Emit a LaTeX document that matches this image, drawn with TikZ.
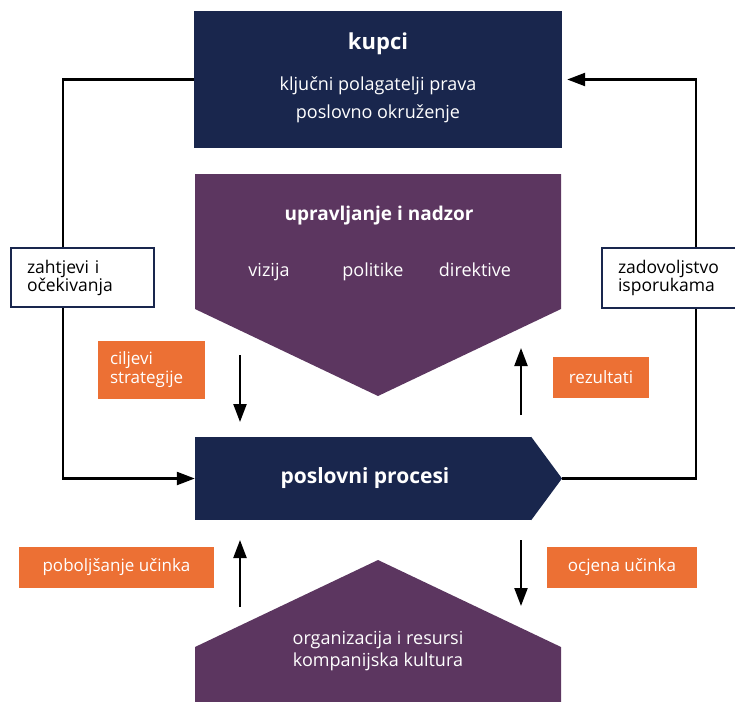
\documentclass[tikz,border=0pt]{standalone}
\usepackage{fontspec}
\setmainfont{Open Sans}
\usetikzlibrary{arrows.meta, positioning}
\definecolor{procnavy}{RGB}{25, 38, 77}
\definecolor{procpurple}{RGB}{92, 54, 96}
\definecolor{procorange}{RGB}{236, 112, 52}
\tikzstyle{flow} = [line width=2.3pt, -{Triangle[length=18pt,width=13pt]}, black]
\tikzstyle{tag} = [fill=procorange, text=white, inner sep=0pt, font=\fontsize{17}{19}\selectfont]
\tikzstyle{note} = [draw=procnavy, line width=1.6pt, fill=white, inner sep=0pt, font=\fontsize{17.5}{18}\selectfont]
\tikzstyle{wtext} = [text=white, font=\fontsize{18}{22}\selectfont]
\tikzstyle{wtitle} = [text=white, font=\fontsize{21}{24}\selectfont\bfseries]

\begin{document}
\begin{tikzpicture}[x=1pt, y=-1pt]
\useasboundingbox (0,0) rectangle (735,701);

% customers on top
\node[fill=procnavy, minimum width=368pt, minimum height=137pt, inner sep=0pt] (kupci) at (378,79.5) {};
\node[wtitle, font=\fontsize{22}{24}\selectfont\bfseries] (kupcit) at (378,44) {kupci};
\node[wtext] (kupci1) at (378,86) {ključni polagatelji prava};
\node[wtext] (kupci2) at (378,114) {poslovno okruženje};

% governance
\fill[procpurple] (195,174) -- (561,174) -- (561,309) -- (378,396) -- (195,309) -- cycle;
\node[wtitle, font=\fontsize{19}{22}\selectfont\bfseries] (upr) at (379,216) {upravljanje i nadzor};
\foreach \x/\word in {269/vizija, 373/politike, 475/direktive}
    \node[wtext, anchor=base] (gov-\word) at (\x,276) {\word};

% business processes
\node[fill=procnavy, minimum width=336pt, minimum height=83pt, inner sep=0pt] (proc) at (363,478.5) {};
\fill[procnavy] (proc.north east) -- (562,478.5) -- (proc.south east) -- cycle;
\coordinate (proctip) at (562,478.5);
\node[wtitle] (proct) at (365,478) {poslovni procesi};

% organisation
\fill[procpurple] (195,702) -- (195,647) -- (378,560) -- (561,647) -- (561,702) -- cycle;
\node[wtext, align=center] (org) at (378,651) {organizacija i resursi\\kompanijska kultura};

% loops round the outside
\coordinate (lturn) at (63,478.5);
\coordinate (rturn) at (696,79.5);
\draw[flow] (kupci.west) -| (lturn) -- (proc.west);
\draw[flow, shorten >=5pt] (proctip) -| (rturn) -- (kupci.east);

\node[note, minimum width=143pt, minimum height=59pt, text width=111pt, align=left] (zaht) at (82.5,277.5) {zahtjevi i\\očekivanja};
\node[note, minimum width=136pt, minimum height=60pt, text width=104pt, align=left] (zadov) at (670,278) {zadovoljstvo\\isporukama};

% vertical arrows between the blocks
\foreach \n/\x/\ya/\yb in {cilj/240/355/422, pobolj/240/607/540, rez/521/415/348, ocj/521/540/606} {
    \coordinate (\n-s) at (\x,\ya);
    \coordinate (\n-e) at (\x,\yb);
    \draw[flow] (\n-s) -- (\n-e);
}

% orange tags
\node[tag, minimum width=107pt, minimum height=58pt, text width=83pt, align=left] (ciljevi) at (151.5,370) {ciljevi\\strategije};
\node[tag, minimum width=96pt, minimum height=41pt] (rezultati) at (601,377.5) {rezultati};
\node[tag, minimum width=195pt, minimum height=41pt] (poboljsanje) at (116.5,567.5) {poboljšanje učinka};
\node[tag, minimum width=150pt, minimum height=41pt] (ocjena) at (622,567.5) {ocjena učinka};
\end{tikzpicture}
\end{document}
